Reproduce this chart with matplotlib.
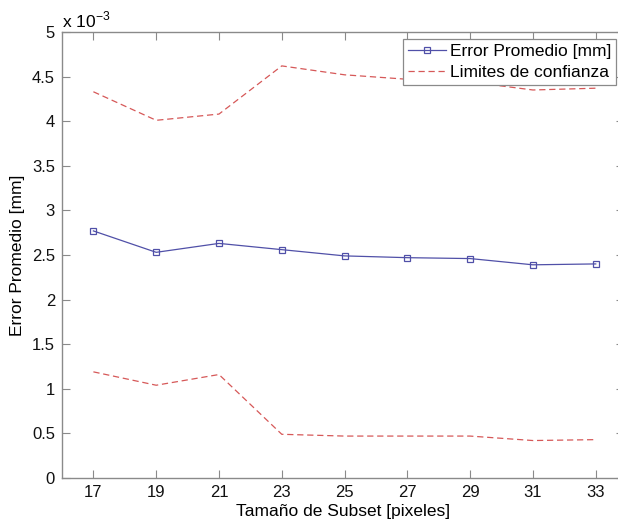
import matplotlib
matplotlib.use("Agg")
import matplotlib.pyplot as plt
from matplotlib.ticker import FuncFormatter, MultipleLocator

plt.rcParams['font.family'] = ['Liberation Sans', 'DejaVu Sans']
plt.rcParams['mathtext.fontset'] = 'custom'
plt.rcParams['mathtext.rm'] = 'Liberation Sans'

# subset sizes and the mean error with its confidence band (mm)
subset = [17, 19, 21, 23, 25, 27, 29, 31, 33]
error_mean = [2.77e-3, 2.53e-3, 2.63e-3, 2.56e-3, 2.49e-3, 2.47e-3, 2.46e-3, 2.39e-3, 2.40e-3]
limit_upper = [4.33e-3, 4.01e-3, 4.08e-3, 4.62e-3, 4.52e-3, 4.47e-3, 4.44e-3, 4.35e-3, 4.37e-3]
limit_lower = [1.19e-3, 1.04e-3, 1.16e-3, 0.49e-3, 0.47e-3, 0.47e-3, 0.47e-3, 0.42e-3, 0.43e-3]

fs_tick = 12
fs_lab = 12.5

fig = plt.figure(figsize=(6.18, 5.23), dpi=100)
# the axes box runs a little past the right border of the figure
ax = fig.add_axes([62/618, 45/523, 562/618, 446/523])

ax.plot(subset, error_mean, color="#5050a8", lw=0.9, marker="s", ms=5,
        mfc="none", mec="#5050a8", mew=0.9, label="Error Promedio [mm]")
ax.plot(subset, limit_upper, color="#d65858", lw=0.9, ls=(0, (5, 3)),
        label="Limites de confianza")
ax.plot(subset, limit_lower, color="#d65858", lw=0.9, ls=(0, (5, 3)))

ax.set_xlim(16, 33.9)
ax.set_ylim(0, 5e-3)
ax.set_xticks(subset)
ax.yaxis.set_major_locator(MultipleLocator(0.5e-3))
ax.yaxis.set_major_formatter(FuncFormatter(lambda v, p: f"{v*1e3:g}"))

for s in ax.spines.values():
    s.set_color("#8a8a8a")
    s.set_linewidth(1.0)
ax.tick_params(direction="in", length=5.5, width=0.8, color="#8a8a8a",
               top=True, right=True, labelsize=fs_tick, labelcolor="#111111", pad=5)

ax.set_xlabel("Tamaño de Subset [pixeles]", fontsize=fs_lab, labelpad=3)
ax.set_ylabel("Error Promedio [mm]", fontsize=fs_lab, labelpad=5)
ax.text(0.0, 1 + 5/446, "x 10$^{\\mathregular{-3}}$", transform=ax.transAxes,
        fontsize=fs_lab, ha="left", va="baseline")

leg = ax.legend(loc="upper left", bbox_to_anchor=(403/618, 1 - 39/523),
                bbox_transform=fig.transFigure, borderaxespad=0, fancybox=False,
                framealpha=1, edgecolor="#8a8a8a", fontsize=fs_lab, handlelength=2.2,
                handletextpad=0.2, borderpad=0.3, labelspacing=0.32)
leg.get_frame().set_linewidth(0.9)

fig.savefig("out.png", dpi=100)
